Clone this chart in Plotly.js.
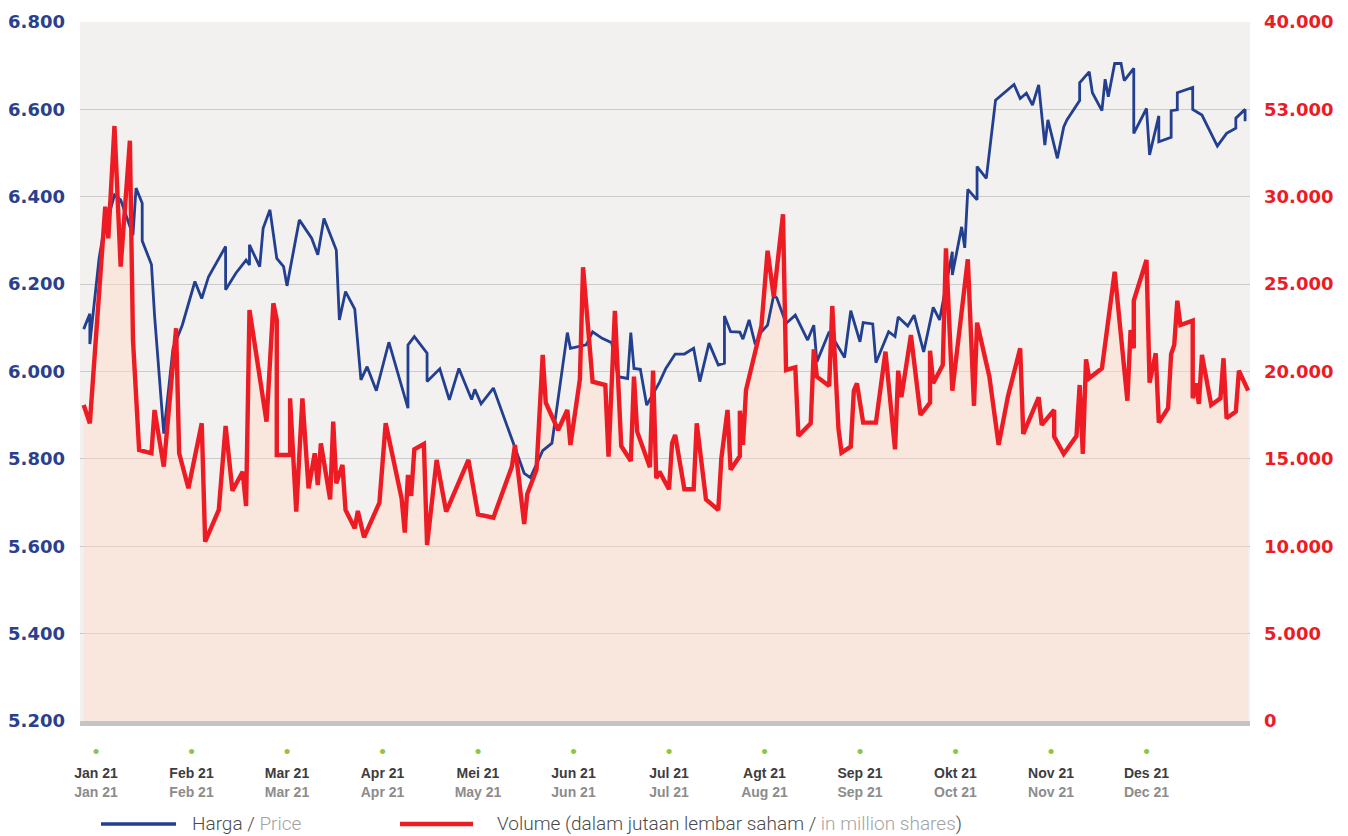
<!DOCTYPE html>
<html>
<head>
<meta charset="utf-8">
<script src="https://cdn.plot.ly/plotly-3.0.1.min.js"></script>
<style>
  html, body { margin: 0; padding: 0; background: #ffffff; }
  #chart { width: 1348px; height: 836px; }
</style>
</head>
<body>
<div id="chart"></div>
<script>
// ---------------- DATA ----------------
const monthLabelsID = ['Jan 21','Feb 21','Mar 21','Apr 21','Mei 21','Jun 21','Jul 21','Agt 21','Sep 21','Okt 21','Nov 21','Des 21'];
const monthLabelsEN = ['Jan 21','Feb 21','Mar 21','Apr 21','May 21','Jun 21','Jul 21','Aug 21','Sep 21','Oct 21','Nov 21','Dec 21'];
const monthStarts = ['2021-01-01','2021-02-01','2021-03-01','2021-04-01','2021-05-01','2021-06-01','2021-07-01','2021-08-01','2021-09-01','2021-10-01','2021-11-01','2021-12-01'];

const priceTickVals = [5200, 5400, 5600, 5800, 6000, 6200, 6400, 6600, 6800];
const volumeTickVals = [0, 5000, 10000, 15000, 20000, 25000, 30000, 35000, 40000];
const volumeTickText = ['0', '5.000', '10.000', '15.000', '20.000', '25.000', '30.000', '53.000', '40.000'];

const priceDates = [
'2020-12-28','2020-12-30','2020-12-30',
'2021-01-02','2021-01-03','2021-01-07','2021-01-09','2021-01-11','2021-01-13','2021-01-14','2021-01-16','2021-01-16','2021-01-19','2021-01-20','2021-01-23','2021-01-26','2021-01-29',
'2021-02-02','2021-02-04','2021-02-06','2021-02-11','2021-02-11','2021-02-14','2021-02-17','2021-02-18','2021-02-18','2021-02-21','2021-02-22','2021-02-24','2021-02-26','2021-02-28',
'2021-03-01','2021-03-05','2021-03-09','2021-03-11','2021-03-13','2021-03-17','2021-03-18','2021-03-20','2021-03-23','2021-03-25','2021-03-27','2021-03-30',
'2021-04-03','2021-04-09','2021-04-09','2021-04-11','2021-04-15','2021-04-15','2021-04-19','2021-04-22','2021-04-25','2021-04-29','2021-04-30',
'2021-05-02','2021-05-06','2021-05-13','2021-05-16','2021-05-18','2021-05-22','2021-05-25','2021-05-28','2021-05-30','2021-05-31',
'2021-06-05','2021-06-07','2021-06-10','2021-06-13','2021-06-15','2021-06-18','2021-06-19','2021-06-20','2021-06-22','2021-06-24','2021-06-28','2021-06-30',
'2021-07-03','2021-07-06','2021-07-09','2021-07-11','2021-07-14','2021-07-17','2021-07-19','2021-07-19','2021-07-21','2021-07-24','2021-07-25','2021-07-27','2021-07-29','2021-07-31',
'2021-08-02','2021-08-04','2021-08-05','2021-08-08','2021-08-11','2021-08-15','2021-08-17','2021-08-18','2021-08-22','2021-08-27','2021-08-29',
'2021-09-01','2021-09-02','2021-09-05','2021-09-06','2021-09-10','2021-09-12','2021-09-13','2021-09-16','2021-09-18','2021-09-21','2021-09-24','2021-09-26','2021-09-30','2021-09-30',
'2021-10-03','2021-10-04','2021-10-05','2021-10-08','2021-10-08','2021-10-11','2021-10-14','2021-10-20','2021-10-22','2021-10-24','2021-10-26','2021-10-28','2021-10-30','2021-10-31',
'2021-11-03','2021-11-05','2021-11-06','2021-11-10','2021-11-10','2021-11-13','2021-11-14','2021-11-17','2021-11-18','2021-11-19','2021-11-21','2021-11-23','2021-11-24','2021-11-27','2021-11-27',
'2021-12-01','2021-12-02','2021-12-05','2021-12-05','2021-12-09','2021-12-09','2021-12-11','2021-12-11','2021-12-16','2021-12-16','2021-12-19','2021-12-24','2021-12-27','2021-12-30','2021-12-30',
'2022-01-02','2022-01-02'
];
const priceValues = [
6097, 6132, 6063,
6259, 6301, 6404, 6393, 6354, 6312, 6420, 6385, 6299, 6245, 6129, 5858, 6053, 6106,
6206, 6167, 6217, 6286, 6187, 6225, 6255, 6244, 6290, 6240, 6328, 6370, 6259, 6240,
6196, 6347, 6305, 6267, 6350, 6278, 6118, 6183, 6143, 5981, 6011, 5956,
6067, 5916, 6061, 6080, 6042, 5977, 6006, 5935, 6007, 5936, 5959,
5926, 5962, 5828, 5767, 5757, 5819, 5836, 5988, 6089, 6053,
6061, 6091, 6076, 6066, 5988, 5984, 6089, 6007, 6005, 5923, 5975, 6007,
6040, 6040, 6053, 5977, 6065, 6015, 6019, 6127, 6091, 6090, 6074, 6118, 6062, 6091,
6106, 6175, 6168, 6110, 6129, 6072, 6106, 6022, 6091, 6032, 6139,
6068, 6112, 6109, 6020, 6091, 6080, 6125, 6104, 6129, 6045, 6147, 6118, 6274, 6221,
6331, 6283, 6417, 6393, 6469, 6442, 6621, 6657, 6625, 6637, 6610, 6656, 6518, 6576,
6488, 6560, 6576, 6620, 6661, 6686, 6638, 6597, 6669, 6629, 6705, 6705, 6666, 6694, 6545,
6602, 6496, 6585, 6526, 6536, 6597, 6599, 6638, 6650, 6600, 6587, 6516, 6545, 6557, 6580,
6600, 6573
];

const volumeDates = [
'2020-12-28','2020-12-30',
'2021-01-04','2021-01-05','2021-01-07','2021-01-09','2021-01-12','2021-01-13','2021-01-15','2021-01-19','2021-01-20','2021-01-23','2021-01-27','2021-01-28','2021-01-31',
'2021-02-04','2021-02-05','2021-02-09','2021-02-11','2021-02-13','2021-02-16','2021-02-17','2021-02-18','2021-02-23','2021-02-25','2021-02-26','2021-02-26',
'2021-03-02','2021-03-02','2021-03-04','2021-03-06','2021-03-08','2021-03-10','2021-03-11','2021-03-12','2021-03-15','2021-03-16','2021-03-17','2021-03-19','2021-03-20','2021-03-23','2021-03-24','2021-03-26','2021-03-31',
'2021-04-02','2021-04-07','2021-04-08','2021-04-09','2021-04-10','2021-04-11','2021-04-14','2021-04-15','2021-04-18','2021-04-21','2021-04-28',
'2021-05-01','2021-05-06','2021-05-12','2021-05-13','2021-05-16','2021-05-17','2021-05-20','2021-05-22','2021-05-23','2021-05-27','2021-05-30','2021-05-31',
'2021-06-03','2021-06-04','2021-06-07','2021-06-11','2021-06-12','2021-06-14','2021-06-16','2021-06-19','2021-06-20','2021-06-21','2021-06-25','2021-06-26','2021-06-27','2021-06-28',
'2021-07-01','2021-07-02','2021-07-03','2021-07-06','2021-07-09','2021-07-10','2021-07-13','2021-07-17','2021-07-18','2021-07-20','2021-07-21','2021-07-24','2021-07-24','2021-07-25','2021-07-26','2021-07-31',
'2021-08-02','2021-08-04','2021-08-07','2021-08-08','2021-08-11','2021-08-12','2021-08-16','2021-08-17','2021-08-18','2021-08-22','2021-08-23','2021-08-25','2021-08-26','2021-08-29','2021-08-30','2021-08-31',
'2021-09-02','2021-09-06','2021-09-09','2021-09-12','2021-09-13','2021-09-14','2021-09-17','2021-09-20','2021-09-23','2021-09-23','2021-09-24','2021-09-27','2021-09-28','2021-09-30',
'2021-10-05','2021-10-07','2021-10-08','2021-10-12','2021-10-15','2021-10-18','2021-10-22','2021-10-23','2021-10-28','2021-10-29',
'2021-11-02','2021-11-02','2021-11-05','2021-11-09','2021-11-10','2021-11-11','2021-11-12','2021-11-13','2021-11-17','2021-11-21','2021-11-25','2021-11-26','2021-11-27','2021-11-27',
'2021-12-01','2021-12-02','2021-12-04','2021-12-05','2021-12-08','2021-12-09','2021-12-10','2021-12-11','2021-12-12','2021-12-16','2021-12-16','2021-12-17','2021-12-18','2021-12-19','2021-12-22','2021-12-25','2021-12-26','2021-12-27','2021-12-30','2021-12-31',
'2022-01-03'
];
const volumeValues = [
18085, 17037,
29431, 27620, 34049, 26000, 33208, 21804, 15510, 15319, 17798, 14557, 22474, 15319, 13317,
17037, 10263, 12076, 16884, 13181, 14268, 12305, 23520, 17132, 23904, 22948, 15224,
15224, 18467, 11979, 18467, 13317, 15319, 13508, 15892, 12687, 17132, 13604, 14650, 12076, 11029, 12019, 10512, 12494,
17037, 12745, 10779, 14078, 12878, 15548, 15853, 10072, 14937, 11979, 14937,
11827, 11636, 14557, 15796, 11273, 12992, 14383, 20946, 18216, 16654, 17798, 15796,
19556, 25963, 19418, 19227, 15128, 23464, 15739, 14880, 19704, 16558, 14518, 20049, 13890, 14268,
13260, 15892, 16368, 13260, 13260, 17037, 12687, 12076, 15033, 17798, 14383, 15166, 17760, 15796, 18943, 22605,
26914, 24282, 28996, 20087, 20241, 16311, 17037, 21270, 19704, 19173, 23750, 16751, 15357, 15700, 18904, 19326,
17072, 17072, 21136, 15548, 20049, 18526, 22090, 17512, 18216, 21193, 19326, 20374, 27051, 18904,
26421, 18028, 22795, 19704, 15796, 18560, 21330, 16426, 18526, 16941,
17798, 16273, 15281, 16311, 19227, 15281, 20699, 19612, 20184, 25712, 18331, 22376, 21330, 24054,
26381, 19364, 21043, 17072, 17896, 21003, 21518, 24054, 22663, 22910, 18467, 19326, 18142, 20946, 18085, 18467, 20756, 17323, 17702, 20049,
18904
];

const priceName = 'Harga / Price';
const volumeName = 'Volume (dalam jutaan lembar saham / in million shares)';

// ---------------- HELPERS ----------------
// position on an evenly spaced month axis: month index + fraction of the month
function monthPos(s) {
  const p = s.split('-').map(Number);
  const dim = new Date(p[0], p[1], 0).getDate();
  return (p[0] - 2021) * 12 + (p[1] - 1) + (p[2] - 1) / dim;
}
const W = 1348, H = 836;
const M = { l: 80, r: 98, t: 22, b: 115 };
const plotW = W - M.l - M.r, plotH = H - M.t - M.b;
const px2paperX = px => (px - M.l) / plotW;
const px2paperY = py => (H - M.b - py) / plotH;

const priceX = priceDates.map(monthPos);
const volumeX = volumeDates.map(monthPos);
const tickPos = monthStarts.map(monthPos);
const tickText = monthLabelsID.map((m, i) =>
  '<span style="font-size:19px;color:#8dc63f">•</span><br>' +
  '<span style="font-size:14px;color:#3d3d3d"><b>' + m + '</b></span><br>' +
  '<span style="font-size:14px;color:#8c8c8c"><b>' + monthLabelsEN[i] + '</b></span>');

const BLUE = '#233f8f', RED = '#ed1c24';

const traces = [
  { // volume area (fill only)
    x: volumeX, y: volumeValues, yaxis: 'y', type: 'scatter', mode: 'lines',
    line: { width: 0, color: RED }, fill: 'tozeroy', fillcolor: 'rgba(255,219,203,0.5)',
    hoverinfo: 'skip', showlegend: false
  },
  { // price
    x: priceX, y: priceValues, yaxis: 'y2', type: 'scatter', mode: 'lines',
    name: priceName, line: { width: 2.8, color: BLUE, shape: 'linear' }, showlegend: false
  },
  { // volume line
    x: volumeX, y: volumeValues, yaxis: 'y3', type: 'scatter', mode: 'lines',
    name: volumeName, line: { width: 4.4, color: RED, shape: 'linear' }, showlegend: false
  }
];

const xr = [monthPos('2021-01-01') - 16 / 95.5, monthPos('2021-01-01') + 1154 / 95.5];

const layout = {
  width: W, height: H,
  margin: M,
  paper_bgcolor: '#ffffff',
  plot_bgcolor: '#f3f1ef',
  separators: ',.',
  showlegend: false,
  xaxis: {
    type: 'linear', range: xr, fixedrange: true,
    tickmode: 'array', tickvals: tickPos, ticktext: tickText,
    ticks: '', showgrid: false, zeroline: false,
    showline: true, linecolor: '#c4c4c4', linewidth: 5,
    tickfont: { family: 'Liberation Sans, Arial, sans-serif', size: 15, color: '#3d3d3d' },
    ticklabelstandoff: 14
  },
  yaxis: {
    side: 'right', range: [0, 40000], fixedrange: true,
    tickmode: 'array', tickvals: volumeTickVals, ticktext: volumeTickText,
    showgrid: true, gridcolor: '#cbcbcb', gridwidth: 1, zeroline: false, ticks: '',
    tickfont: { family: 'DejaVu Sans, sans-serif', size: 18, color: RED, weight: 'bold' },
    ticklabelstandoff: 13
  },
  yaxis2: {
    overlaying: 'y', side: 'left', range: [5200, 6800], fixedrange: true,
    tickmode: 'array', tickvals: priceTickVals, tickformat: ',d',
    showgrid: false, zeroline: false, ticks: '',
    tickfont: { family: 'DejaVu Sans, sans-serif', size: 18, color: '#2a3f8e', weight: 'bold' },
    ticklabelstandoff: 14
  },
  yaxis3: {
    overlaying: 'y', side: 'right', range: [0, 40000], fixedrange: true,
    visible: false, showgrid: false, zeroline: false
  },
  shapes: [
    { type: 'line', xref: 'paper', yref: 'paper', x0: px2paperX(101), x1: px2paperX(176), y0: px2paperY(824), y1: px2paperY(824),
      line: { color: BLUE, width: 3.5 } },
    { type: 'line', xref: 'paper', yref: 'paper', x0: px2paperX(400), x1: px2paperX(473), y0: px2paperY(824), y1: px2paperY(824),
      line: { color: RED, width: 4.5 } }
  ],
  annotations: [
    { xref: 'paper', yref: 'paper', x: px2paperX(190), y: px2paperY(823), xanchor: 'left', yanchor: 'middle', showarrow: false,
      text: 'Harga / <span style="color:#a3a3a3">Price</span>',
      font: { family: 'Roboto, sans-serif', size: 19, color: '#4a4a4a', weight: 300 } },
    { xref: 'paper', yref: 'paper', x: px2paperX(495), y: px2paperY(823), xanchor: 'left', yanchor: 'middle', showarrow: false,
      text: 'Volume (dalam jutaan lembar saham / <span style="color:#a3a3a3">in million shares</span>)',
      font: { family: 'Roboto, sans-serif', size: 19, color: '#4a4a4a', weight: 300 } }
  ]
};

Plotly.newPlot('chart', traces, layout, { staticPlot: true, displayModeBar: false });
</script>
</body>
</html>
